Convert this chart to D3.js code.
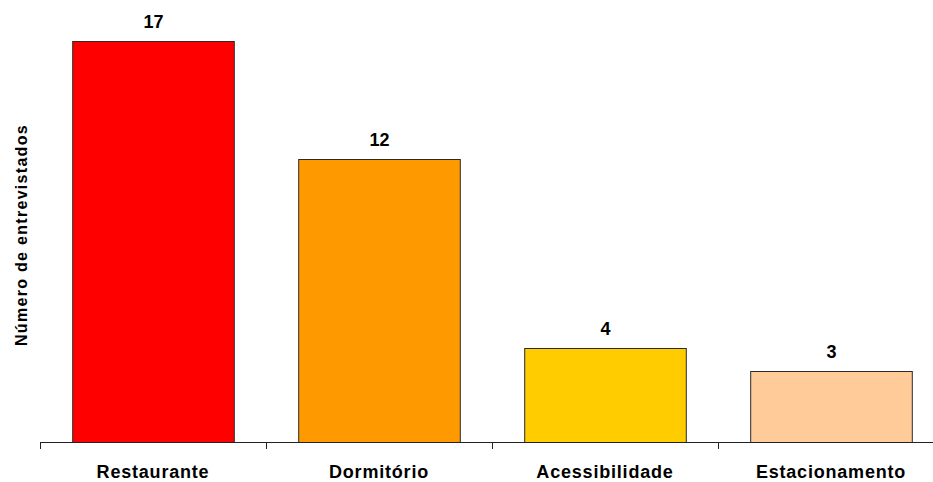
<!DOCTYPE html>
<html>
<head>
<meta charset="utf-8">
<script src="https://cdn.jsdelivr.net/npm/d3@7"></script>
<style>
  html, body { margin: 0; padding: 0; background: #fff; }
  svg { display: block; font-family: "Liberation Sans", Arial, sans-serif; }
</style>
</head>
<body>
<svg id="chart" width="933" height="482"></svg>
<script>
// Respostas por área de melhoria
const categories = ["Restaurante", "Dormitório", "Acessibilidade", "Estacionamento"];
const values = [17, 12, 4, 3];
const colors = ["#FF0000", "#FF9900", "#FFCC00", "#FFCC99"];
const yTitle = "Número de entrevistados";

const svg = d3.select("#chart");
const left = 40, baseY = 442, topY = 41;
const bandW = 226;

const x = d3.scaleBand()
  .domain(categories)
  .range([left, left + bandW * categories.length])
  .paddingInner(0.285)
  .paddingOuter(0.1425);

const y = d3.scaleLinear()
  .domain([0, 17])
  .range([baseY, topY]);

// Barras
svg.append("g").selectAll("rect")
  .data(categories)
  .join("rect")
  .attr("x", d => x(d) + 0.5)
  .attr("y", (d, i) => Math.round(y(values[i])) + 0.5)
  .attr("width", x.bandwidth())
  .attr("height", (d, i) => baseY - Math.round(y(values[i])))
  .attr("fill", (d, i) => colors[i])
  .attr("stroke", "#2a2a2a")
  .attr("stroke-width", 1);

// Rótulos de valor
svg.append("g").selectAll("text")
  .data(categories)
  .join("text")
  .attr("x", d => x(d) + x.bandwidth() / 2 + 0.5)
  .attr("y", (d, i) => y(values[i]) - 13)
  .attr("text-anchor", "middle")
  .attr("font-size", "18px")
  .attr("font-weight", "bold")
  .attr("fill", "#000")
  .text((d, i) => values[i]);

// Eixo X com marcas nos limites das categorias
const axis = svg.append("g");
axis.append("line")
  .attr("x1", left).attr("x2", 933)
  .attr("y1", baseY + 0.5).attr("y2", baseY + 0.5)
  .attr("stroke", "#222");
const boundaries = d3.range(categories.length + 1).map(i => left + i * bandW);
axis.selectAll("line.tick")
  .data(boundaries)
  .join("line")
  .attr("class", "tick")
  .attr("x1", d => d + 0.5).attr("x2", d => d + 0.5)
  .attr("y1", baseY).attr("y2", baseY + 7)
  .attr("stroke", "#222");

axis.selectAll("text")
  .data(categories)
  .join("text")
  .attr("x", d => x(d) + x.bandwidth() / 2)
  .attr("y", 478)
  .attr("text-anchor", "middle")
  .attr("font-size", "18px")
  .attr("font-weight", "bold")
  .attr("letter-spacing", "0.8px")
  .attr("fill", "#000")
  .text(d => d);

// Título do eixo Y
svg.append("text")
  .attr("transform", `translate(27,235) rotate(-90)`)
  .attr("text-anchor", "middle")
  .attr("font-size", "16px")
  .attr("font-weight", "bold")
  .attr("letter-spacing", "1.3px")
  .attr("fill", "#000")
  .text(yTitle);
</script>
</body>
</html>
